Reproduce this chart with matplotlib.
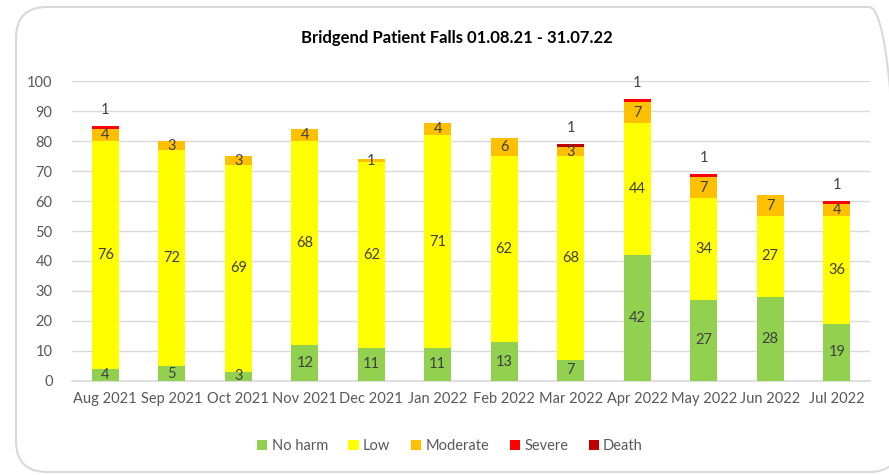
import matplotlib
matplotlib.use("Agg")
import matplotlib.pyplot as plt
from matplotlib.patches import FancyBboxPatch
import numpy as np

months = ["Aug 2021", "Sep 2021", "Oct 2021", "Nov 2021", "Dec 2021", "Jan 2022",
          "Feb 2022", "Mar 2022", "Apr 2022", "May 2022", "Jun 2022", "Jul 2022"]
no_harm = [4, 5, 3, 12, 11, 11, 13, 7, 42, 27, 28, 19]
low = [76, 72, 69, 68, 62, 71, 62, 68, 44, 34, 27, 36]
moderate = [4, 3, 3, 4, 1, 4, 6, 3, 7, 7, 7, 4]
severe = [1, 0, 0, 0, 0, 0, 0, 0, 1, 1, 0, 1]
death = [0, 0, 0, 0, 0, 0, 0, 1, 0, 0, 0, 0]

series = [("No harm", no_harm, "#92D050"), ("Low", low, "#FFFF00"),
          ("Moderate", moderate, "#FFC000"), ("Severe", severe, "#FF0000"),
          ("Death", death, "#C00000")]

plt.rcParams['font.family'] = ['Lato', 'DejaVu Sans']
txt = "#404040"

fig = plt.figure(figsize=(8.89, 4.75), dpi=100)
border = FancyBboxPatch((16/889, 3/475), (900-16)/889, (470-5)/475,
                        boxstyle="round,pad=0,rounding_size=0.035",
                        transform=fig.transFigure, facecolor="none",
                        edgecolor="#d9d9d9", linewidth=1.5, mutation_aspect=889/475,
                        zorder=-1)
fig.patches.append(border)

ax = fig.add_axes([72/889, 1-381/475, (870-72)/889, 300/475])
ax.set_facecolor("none")
x = np.arange(len(months))
bottom = np.zeros(len(months))
w = 0.41
for name, vals, col in series:
    v = np.array(vals, dtype=float)
    ax.bar(x, v, w, bottom=bottom, color=col, label=name, zorder=3)
    for i, val in enumerate(v):
        if val <= 0:
            continue
        if name in ("Severe", "Death"):
            ax.text(x[i], bottom[i] + val + 5.5, f"{int(val)}", ha="center", va="center",
                    fontsize=10.5, color=txt, zorder=4)
        else:
            ax.text(x[i], bottom[i] + val / 2, f"{int(val)}", ha="center", va="center",
                    fontsize=10.5, color=txt, zorder=4)
    bottom += v

ax.set_xlim(-0.5, len(months) - 0.5)
ax.set_ylim(0, 100)
ax.set_yticks(range(0, 101, 10))
ax.set_xticks(x)
ax.set_xticklabels(months)
ax.tick_params(axis="both", length=0, labelsize=10.5, colors="#595959")
ax.tick_params(axis="x", pad=8)
ax.tick_params(axis="y", pad=14)
ax.grid(axis="y", color="#d9d9d9", linewidth=1, zorder=0)
for s in ["top", "right", "left"]:
    ax.spines[s].set_visible(False)
ax.spines["bottom"].set_color("#d9d9d9")
ax.spines["bottom"].set_linewidth(1.2)

fig.text(457/889, 1-38/475, "Bridgend Patient Falls 01.08.21 - 31.07.22",
         ha="center", va="center", fontsize=12, fontweight="bold", color="black")

handles, labels = ax.get_legend_handles_labels()
fig.legend(handles, labels, loc="center", bbox_to_anchor=(450/889, 1-446/475), ncol=5,
           frameon=False, fontsize=10.5, handlelength=0.7, handleheight=0.7,
           handletextpad=0.3, columnspacing=1.4, labelcolor="#595959")

fig.savefig("out.png", dpi=100)
